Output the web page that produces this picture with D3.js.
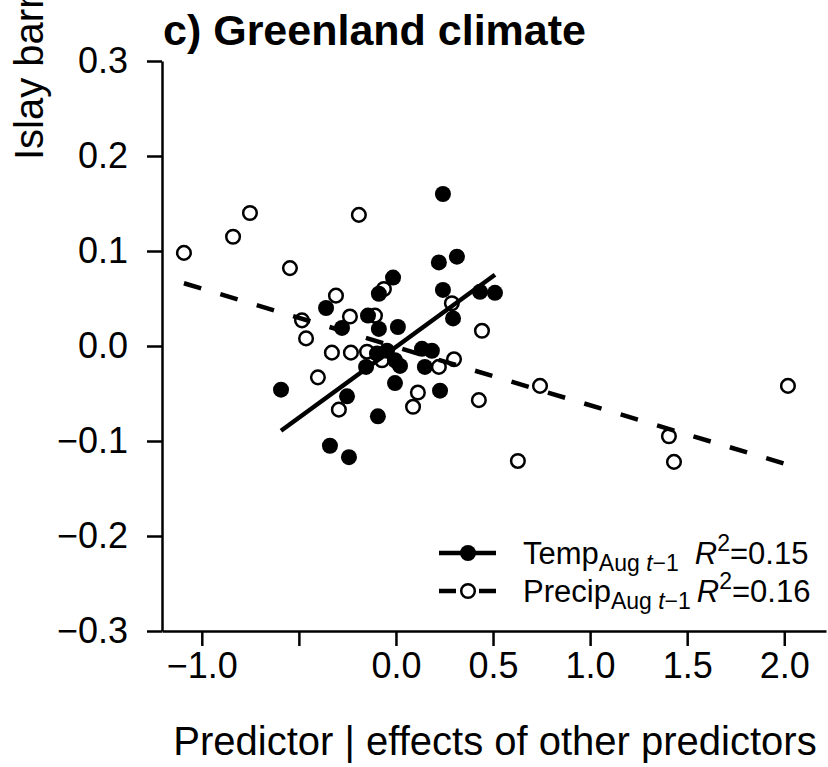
<!DOCTYPE html>
<html>
<head>
<meta charset="utf-8">
<script src="https://cdn.jsdelivr.net/npm/d3@7"></script>
<style>
  body { margin: 0; background: #fff; }
  svg { display: block; font-family: "Liberation Sans", Arial, Helvetica, sans-serif; }
</style>
</head>
<body>
<svg id="chart" width="828" height="767"></svg>
<script>
// partial residuals
var tempX = [-0.360, -0.278, -0.144, -0.088, -0.015, -0.088, 0.010, -0.046, -0.098, -0.005,
             0.021, -0.154, 0.134, 0.185, 0.149, -0.005, -0.592, -0.252, -0.093, -0.340,
             -0.242, 0.242, 0.221, 0.314, 0.242, 0.433, 0.510, 0.294, 0.227];
var tempY = [0.040, 0.019, 0.032, 0.055, 0.072, 0.018, 0.020, -0.005, -0.008, -0.015,
             -0.021, -0.022, -0.003, -0.005, -0.022, -0.039, -0.046, -0.053, -0.074, -0.105,
             -0.117, 0.160, 0.088, 0.094, 0.059, 0.057, 0.056, 0.029, -0.047];

var precipX = [-1.092, -0.839, -0.752, -0.546, -0.191, -0.309, -0.484, -0.463, -0.330, -0.232,
               -0.149, -0.237, -0.108, -0.062, -0.402, -0.294, -0.072, 0.113, 0.088, 0.288,
               0.443, 0.299, 0.221, 0.427, 0.742, 0.628, 1.406, 1.432, 2.019];
var precipY = [0.098, 0.115, 0.140, 0.082, 0.138, 0.053, 0.027, 0.008, -0.007, -0.007,
               -0.006, 0.031, 0.032, 0.060, -0.033, -0.067, -0.015, -0.049, -0.064, 0.045,
               0.016, -0.014, -0.022, -0.057, -0.042, -0.121, -0.095, -0.122, -0.042];

// fitted lines: [intercept, slope]
var tempFit = [-0.001, 0.149];
var precipFit = [-0.001, -0.0614];

var xTicks = [-1.0, -0.5, 0.0, 0.5, 1.0, 1.5, 2.0];
var xTickLabels = ["\u22121.0", "", "0.0", "0.5", "1.0", "1.5", "2.0"];
var yTicks = [-0.3, -0.2, -0.1, 0.0, 0.1, 0.2, 0.3];

var svg = d3.select("#chart");

var x = d3.scaleLinear().domain([-1.205, 2.215]).range([162, 826]);
var y = d3.scaleLinear().domain([-0.3, 0.3]).range([631, 61]);

// axes
var yAxis = d3.axisLeft(y)
    .tickValues(yTicks)
    .tickSize(15)
    .tickSizeOuter(0)
    .tickPadding(19)
    .tickFormat(d3.format(".1f"));

var xAxis = d3.axisBottom(x)
    .tickValues(xTicks)
    .tickSize(15)
    .tickSizeOuter(0)
    .tickPadding(6)
    .tickFormat(function (d, i) { return xTickLabels[i]; });

var gy = svg.append("g").attr("transform", "translate(162,0)").call(yAxis);
var gx = svg.append("g").attr("transform", "translate(0,631)").call(xAxis);

[gx, gy].forEach(function (g) {
  g.selectAll("path, line").attr("stroke", "#000").attr("stroke-width", 2.5);
  g.selectAll("text").attr("fill", "#000").style("font-size", "36px");
});

// points
var precipData = precipX.map(function (v, i) { return [v, precipY[i]]; });
var tempData = tempX.map(function (v, i) { return [v, tempY[i]]; });

svg.append("g").selectAll("circle").data(precipData).enter().append("circle")
    .attr("cx", function (d) { return x(d[0]); })
    .attr("cy", function (d) { return y(d[1]); })
    .attr("r", 6.8)
    .attr("fill", "#fff")
    .attr("stroke", "#000")
    .attr("stroke-width", 2.5);

svg.append("g").selectAll("circle").data(tempData).enter().append("circle")
    .attr("cx", function (d) { return x(d[0]); })
    .attr("cy", function (d) { return y(d[1]); })
    .attr("r", 8)
    .attr("fill", "#000");

// regression lines
function fitLine(xs, fit) {
  var ext = d3.extent(xs);
  return ext.map(function (v) { return [v, fit[0] + fit[1] * v]; });
}
var line = d3.line().x(function (d) { return x(d[0]); }).y(function (d) { return y(d[1]); });

svg.append("path")
    .attr("d", line(fitLine(tempX, tempFit)))
    .attr("fill", "none")
    .attr("stroke", "#000")
    .attr("stroke-width", 4.5);

svg.append("path")
    .attr("d", line(fitLine(precipX, precipFit)))
    .attr("fill", "none")
    .attr("stroke", "#000")
    .attr("stroke-width", 4.5)
    .attr("stroke-dasharray", "18,20");

// title
svg.append("text")
    .attr("x", 163).attr("y", 45)
    .style("font-size", "43px").style("font-weight", "bold")
    .text("c) Greenland climate");

// axis titles
svg.append("text")
    .attr("transform", "translate(43,160) rotate(-90)")
    .style("font-size", "40px")
    .text("Islay barnacle geese | effects of other predictors");

svg.append("text")
    .attr("x", 495).attr("y", 755)
    .attr("text-anchor", "middle")
    .style("font-size", "40px")
    .text("Predictor | effects of other predictors");

// legend
var legend = svg.append("g");
var rows = [
  { name: "Temp", r2: "=0.15", dash: null, filled: true, gap: 16 },
  { name: "Precip", r2: "=0.16", dash: "17,23,17", filled: false, gap: 6 }
];
rows.forEach(function (row, i) {
  var ly = 553 + i * 38;
  legend.append("line")
      .attr("x1", 439).attr("x2", 496).attr("y1", ly).attr("y2", ly)
      .attr("stroke", "#000").attr("stroke-width", 4.5)
      .attr("stroke-dasharray", row.dash);
  legend.append("circle")
      .attr("cx", 468).attr("cy", ly)
      .attr("r", row.filled ? 8 : 6.8)
      .attr("fill", row.filled ? "#000" : "#fff")
      .attr("stroke", row.filled ? null : "#000")
      .attr("stroke-width", 2.5);
  var t = legend.append("text")
      .attr("x", 523).attr("y", ly + 11)
      .style("font-size", "31px");
  t.append("tspan").text(row.name);
  var sub = t.append("tspan").attr("dy", 7).style("font-size", "23px");
  sub.append("tspan").text("Aug ");
  sub.append("tspan").style("font-style", "italic").text("t");
  sub.append("tspan").text("\u22121");
  t.append("tspan").attr("dx", row.gap).attr("dy", -7).style("font-style", "italic").text("R");
  t.append("tspan").attr("dy", -13).style("font-size", "23px").text("2");
  t.append("tspan").attr("dy", 13).text(row.r2);
});
</script>
</body>
</html>
